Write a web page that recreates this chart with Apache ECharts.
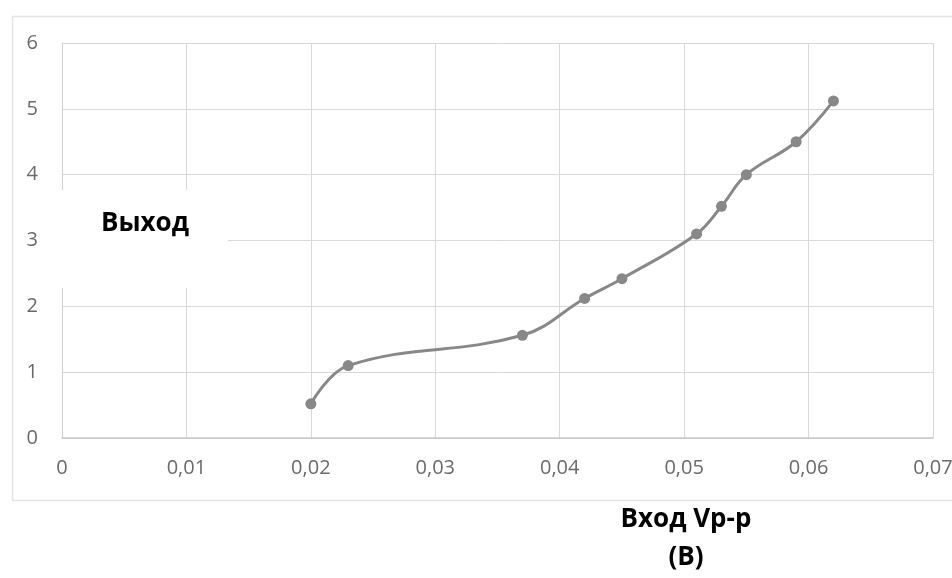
<!DOCTYPE html>
<html>
<head>
<meta charset="utf-8">
<script src="https://cdn.jsdelivr.net/npm/echarts@6/dist/echarts.min.js"></script>
<style>
html,body{margin:0;padding:0;background:#fff;}
#c{width:952px;height:578px;}
</style>
</head>
<body>
<div id="c"></div>
<script>
const inputV = [0.020, 0.023, 0.037, 0.042, 0.045, 0.051, 0.053, 0.055, 0.059, 0.062];
const outputV = [0.52, 1.1, 1.56, 2.12, 2.42, 3.1, 3.52, 4.0, 4.5, 5.12];
const yAxisTitle = 'Выход';
const xAxisTitleLine1 = 'Вход Vp-p';
const xAxisTitleLine2 = '(В)';

const chart = echarts.init(document.getElementById('c'), null, {renderer: 'canvas'});
const pts = inputV.map((x, i) => [x, outputV[i]]);
const fmt = v => String(Number(v.toFixed(2))).replace('.', ',');
const titleFont = 'bold 26px "Open Sans", sans-serif';

chart.setOption({
  backgroundColor: '#ffffff',
  animation: false,
  grid: {left: 62, right: 19, top: 43, bottom: 140, containLabel: false, outerBoundsMode: 'none'},
  xAxis: {
    type: 'value', min: 0, max: 0.07, interval: 0.01,
    axisLine: {show: true, lineStyle: {color: '#c8c8c8', width: 1.5}},
    axisTick: {show: false},
    axisLabel: {color: '#6a6a6a', fontSize: 20, fontFamily: 'Open Sans', margin: 20, formatter: fmt},
    splitLine: {show: true, lineStyle: {color: '#d9d9d9', width: 1}}
  },
  yAxis: {
    type: 'value', min: 0, max: 6, interval: 1,
    axisLine: {show: true, lineStyle: {color: '#d0d0d0', width: 1}},
    axisTick: {show: false},
    axisLabel: {color: '#6a6a6a', fontSize: 20, fontFamily: 'Open Sans', margin: 24, formatter: v => String(v)},
    splitLine: {show: true, lineStyle: {color: '#d9d9d9', width: 1}}
  },
  series: [{
    type: 'line',
    data: pts,
    smooth: 0.4,
    symbol: 'circle',
    symbolSize: 11,
    itemStyle: {color: '#888888'},
    lineStyle: {color: '#888888', width: 3}
  }],
  graphic: [
    {type: 'rect', left: 10, top: 14, shape: {width: 960, height: 484},
     style: {fill: 'none', stroke: '#e4e4e4', lineWidth: 1.5}, z: -1, silent: true},
    {type: 'rect', left: 58, top: 190, shape: {width: 170, height: 98},
     style: {fill: '#ffffff'}, z: 50},
    {type: 'text', x: 145, y: 224, z: 51,
     style: {text: yAxisTitle, font: titleFont, fill: '#000', align: 'center', verticalAlign: 'middle', textAlign: 'center', textVerticalAlign: 'middle'}},
    {type: 'text', x: 686, y: 520, z: 51,
     style: {text: xAxisTitleLine1, font: titleFont, fill: '#000', align: 'center', verticalAlign: 'middle', textAlign: 'center', textVerticalAlign: 'middle'}},
    {type: 'text', x: 686, y: 558, z: 51,
     style: {text: xAxisTitleLine2, font: titleFont, fill: '#000', align: 'center', verticalAlign: 'middle', textAlign: 'center', textVerticalAlign: 'middle'}}
  ]
});
</script>
</body>
</html>
